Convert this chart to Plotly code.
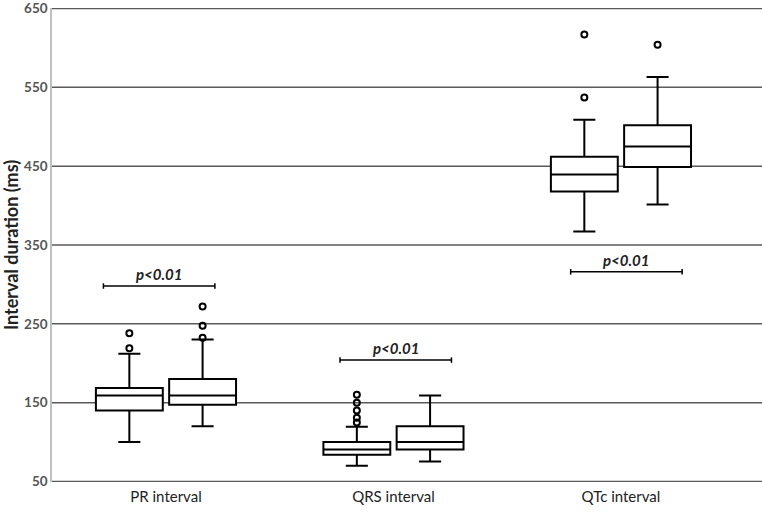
import plotly.graph_objects as go

# data
categories = ["PR interval", "QRS interval", "QTc interval"]
y_ticks = [50, 150, 250, 350, 450, 550, 650]

# group 1 (left box in each pair)
g1_low = [100, 70, 367]
g1_q1 = [140, 84, 418]
g1_med = [159, 90.5, 439.5]
g1_q3 = [168.5, 100, 462]
g1_high = [212, 119.5, 509]
g1_out = [[219, 238], [125, 131, 140, 150, 160], [537, 617]]

# group 2 (right box in each pair)
g2_low = [120, 75.5, 401.5]
g2_q1 = [147.5, 90.5, 449]
g2_med = [159, 100, 475]
g2_q3 = [180, 120, 502]
g2_high = [230, 159, 563]
g2_out = [[232.5, 247.5, 272], [], [604]]

p_text = ["p<0.01", "p<0.01", "p<0.01"]
p_level = [298, 204, 316]

off = 0.161
bw = 0.294
xs = list(range(len(categories)))

fig = go.Figure()

# gridlines drawn as shapes so the ones at the range edges show too
for v in y_ticks:
    fig.add_shape(type="line", xref="paper", x0=0, x1=1, y0=v, y1=v,
                  line=dict(color="#5a5a5a", width=1.5), layer="below")

for k, (low, q1, med, q3, high, outs) in enumerate([
        (g1_low, g1_q1, g1_med, g1_q3, g1_high, g1_out),
        (g2_low, g2_q1, g2_med, g2_q3, g2_high, g2_out)]):
    sign = -1 if k == 0 else 1
    pos = [x + sign * off for x in xs]
    fig.add_trace(go.Box(
        x=pos, q1=q1, median=med, q3=q3, lowerfence=low, upperfence=high,
        width=bw, whiskerwidth=0.33,
        fillcolor="white", line=dict(color="black", width=2),
        boxpoints=False, showlegend=False, hoverinfo="skip"))
    ox, oy = [], []
    for i, vals in enumerate(outs):
        for v in vals:
            ox.append(pos[i])
            oy.append(v)
    fig.add_trace(go.Scatter(
        x=ox, y=oy, mode="markers", showlegend=False, hoverinfo="skip",
        marker=dict(symbol="circle-open", size=6, color="black",
                    line=dict(width=2))))

# p-value brackets
shift = [-0.03, 0.01, 0.024]
half = 0.245
for i, (t, yv) in enumerate(zip(p_text, p_level)):
    c = xs[i] + shift[i]
    fig.add_shape(type="line", x0=c - half, x1=c + half, y0=yv, y1=yv,
                  line=dict(color="black", width=1.5))
    for xe in (c - half, c + half):
        fig.add_shape(type="line", x0=xe, x1=xe, y0=yv - 3.5, y1=yv + 3.5,
                      line=dict(color="black", width=1.5))
    fig.add_annotation(x=c, y=yv, text="<b><i>" + t.replace("<", "&lt;") + "</i></b>",
                       showarrow=False, yanchor="bottom", yshift=1,
                       font=dict(size=15, color="#222", family="Lato"))

fig.update_layout(
    width=762, height=513,
    margin=dict(l=52, r=0, t=8, b=31),
    paper_bgcolor="white", plot_bgcolor="white",
    font=dict(family="Lato", color="black"),
    boxmode="overlay",
)
fig.update_xaxes(
    range=[-0.501, 2.62], tickvals=xs, ticktext=categories,
    showgrid=False, zeroline=False, showline=False, ticks="",
    tickfont=dict(size=15, color="#222"), automargin=False,
    ticklabelstandoff=4,
)
fig.update_yaxes(
    range=[49.4, 650.6], tickvals=y_ticks,
    ticktext=["<b>%d</b>" % v for v in y_ticks],
    showgrid=False, automargin=False,
    zeroline=False, showline=True, linecolor="#c0c0c0", linewidth=1.5,
    ticks="", tickfont=dict(size=13.5, color="#555"),
    title=dict(text="<b>Interval duration (ms)</b>", font=dict(size=18, color="#222"),
               standoff=4),
)

# page body has an 8px default margin; drop it so the figure sits at 0,0
fig.write_html("out.html", config={"displayModeBar": False},
               post_script="document.body.style.margin = '0';")
